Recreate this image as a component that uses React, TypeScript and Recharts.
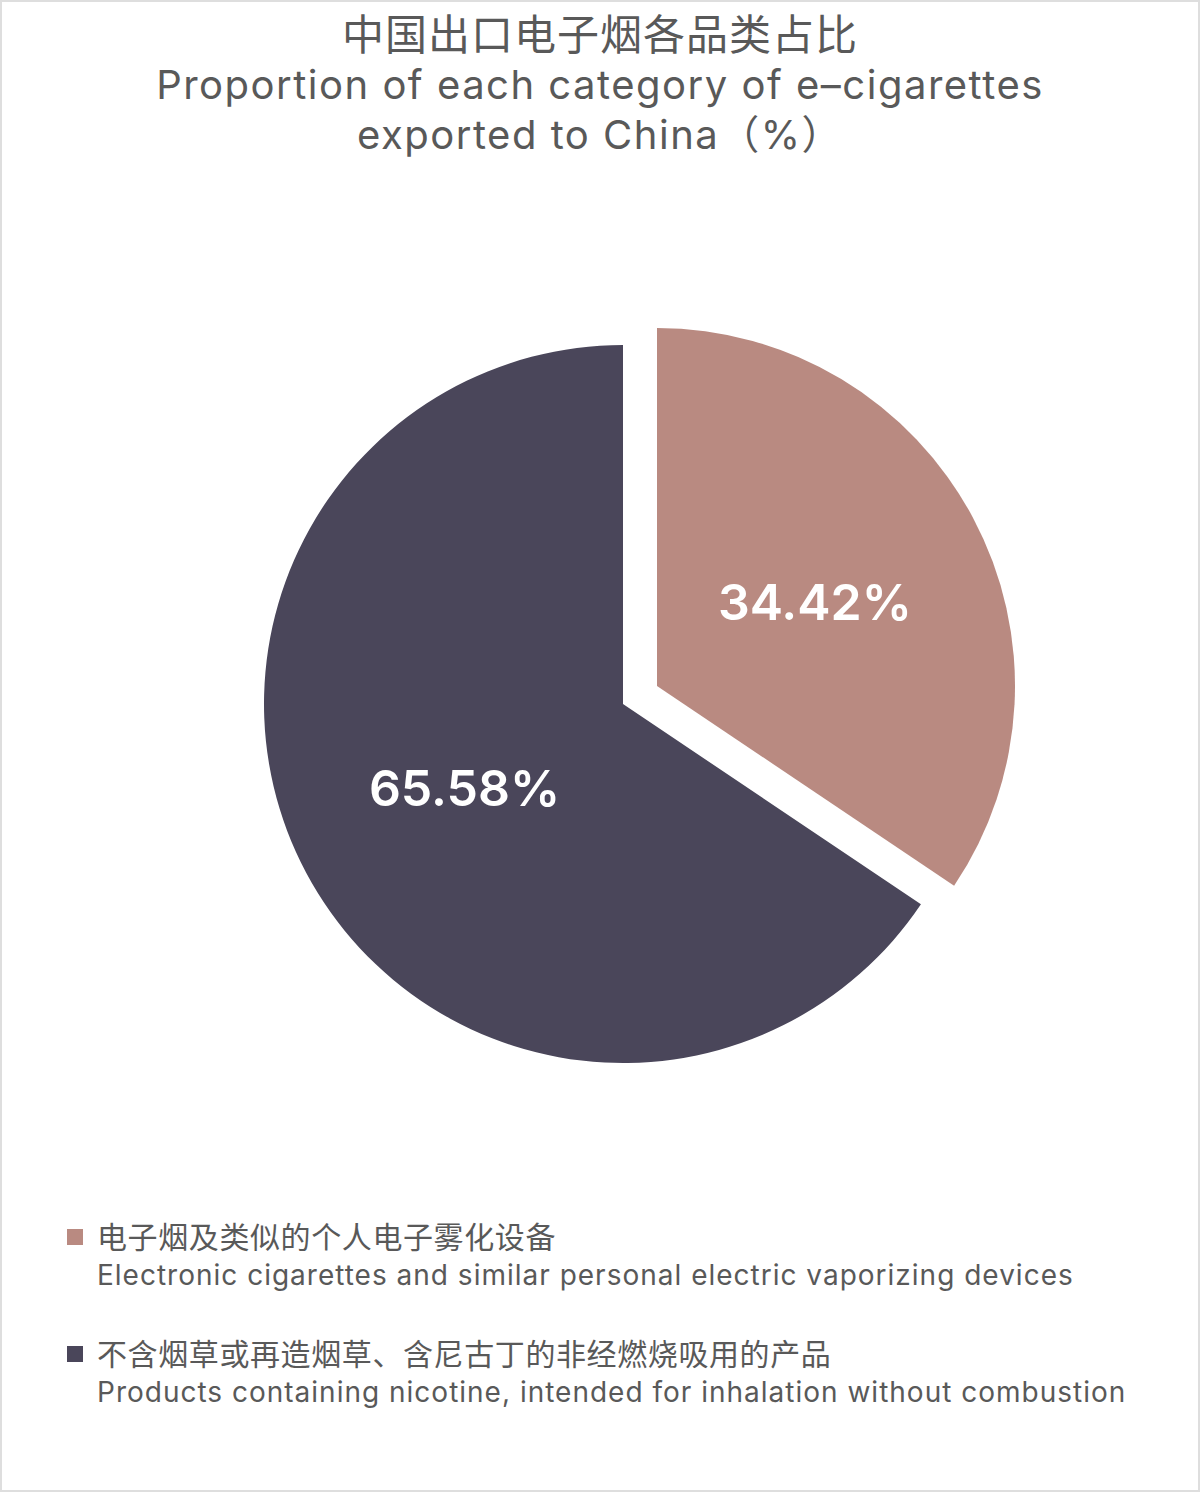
import React from "react";
import { PieChart, Pie, Cell } from "recharts";

const categories = ["电子烟及类似的个人电子雾化设备", "不含烟草或再造烟草、含尼古丁的非经燃烧吸用的产品"];
const categoriesEn = [
  "Electronic cigarettes and similar personal electric vaporizing devices",
  "Products containing nicotine, intended for inhalation without combustion",
];
const shares = [34.42, 65.58];
const colors = ["#b98a81", "#4a465a"];

const titleLines = [
  "中国出口电子烟各品类占比",
  "Proportion of each category of e–cigarettes",
  "exported to China（%）",
];

const data = categories.map((name, i) => ({ name, value: shares[i] }));

const FONT = "Inter, 'Noto Sans CJK SC', sans-serif";
const RAD = Math.PI / 180;

// label sits half way out along the slice's middle angle
function makeLabel(only: number) {
  return (props: any) => {
    const { cx, cy, midAngle, outerRadius, index, value } = props;
    if (index !== only) return null;
    const r = outerRadius * 0.5;
    const x = cx + r * Math.cos(-midAngle * RAD);
    const y = cy + r * Math.sin(-midAngle * RAD);
    return (
      <text
        x={x}
        y={y}
        fill="#ffffff"
        textAnchor="middle"
        dominantBaseline="central"
        fontSize={50}
        fontWeight={600}
        fontFamily={FONT}
      >
        {Number(value).toFixed(2)}%
      </text>
    );
  };
}

export default function App() {
  return (
    <div
      style={{
        position: "absolute",
        left: 0,
        top: 0,
        width: 1200,
        height: 1492,
        background: "#ffffff",
        fontFamily: FONT,
        color: "#595959",
        overflow: "hidden",
      }}
    >
      <div style={{ position: "absolute", top: 10, left: 0, width: 1200, textAlign: "center" }}>
        {titleLines.map((t, i) => (
          <div
            key={t}
            style={{
              fontSize: i === 0 ? 42 : 40,
              letterSpacing: i === 0 ? 1 : 1.5,
              lineHeight: "50px",
              height: 50,
            }}
          >
            {t}
          </div>
        ))}
      </div>

      <div style={{ position: "absolute", left: 0, top: 0 }}>
        <PieChart width={1200} height={1200} margin={{ top: 0, right: 0, bottom: 0, left: 0 }}>
          <Pie
            data={data}
            dataKey="value"
            nameKey="name"
            cx={657}
            cy={686}
            outerRadius={358}
            startAngle={90}
            endAngle={-270}
            stroke="none"
            labelLine={false}
            label={makeLabel(0)}
            isAnimationActive={false}
          >
            {data.map((d, i) => (
              <Cell key={d.name} fill={i === 0 ? colors[0] : "transparent"} />
            ))}
          </Pie>
          <Pie
            data={data}
            dataKey="value"
            nameKey="name"
            cx={623}
            cy={704}
            outerRadius={359}
            startAngle={90}
            endAngle={-270}
            stroke="none"
            labelLine={false}
            label={makeLabel(1)}
            isAnimationActive={false}
          >
            {data.map((d, i) => (
              <Cell key={d.name} fill={i === 1 ? colors[1] : "transparent"} />
            ))}
          </Pie>
        </PieChart>
      </div>

      {categories.map((c, i) => (
        <div key={c} style={{ position: "absolute", left: 66, top: 1217 + i * 117 }}>
          <div
            style={{
              position: "absolute",
              left: 1,
              top: 12,
              width: 16,
              height: 16,
              background: colors[i],
            }}
          />
          <div
            style={{
              marginLeft: 31,
              fontSize: 30,
              letterSpacing: 0.6,
              lineHeight: "40px",
              whiteSpace: "nowrap",
            }}
          >
            {c}
          </div>
          <div
            style={{
              marginLeft: 31,
              fontSize: 28,
              letterSpacing: 1,
              lineHeight: "36px",
              whiteSpace: "nowrap",
            }}
          >
            {categoriesEn[i]}
          </div>
        </div>
      ))}

      <div
        style={{
          position: "absolute",
          left: 0,
          top: 0,
          width: 1200,
          height: 1492,
          boxSizing: "border-box",
          border: "2px solid #dedede",
          pointerEvents: "none",
        }}
      />
    </div>
  );
}
